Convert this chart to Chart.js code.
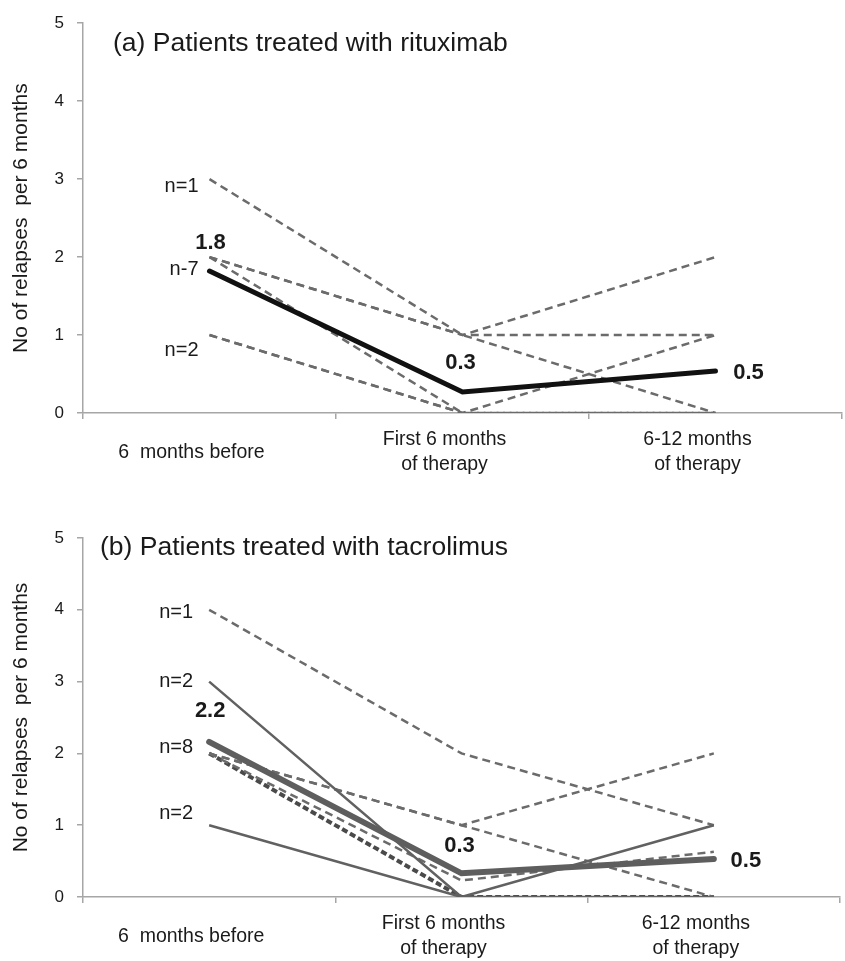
<!DOCTYPE html>
<html>
<head>
<meta charset="utf-8">
<script src="https://cdn.jsdelivr.net/npm/chart.js@4.4.1/dist/chart.umd.min.js"></script>
<style>
  body { margin: 0; background: #fff; }
  canvas { position: absolute; left: 0; }
  #rituxChart { top: 0; }
  #tacroChart { top: 480px; }
</style>
</head>
<body>
<canvas id="rituxChart" width="845" height="480"></canvas>
<canvas id="tacroChart" width="845" height="481"></canvas>
<script>
// categories along x
var periods = ['6  months before', ['First 6 months', 'of therapy'], ['6-12 months', 'of therapy']];

// (a) rituximab - individual patient profiles (dashed) and mean
var rituxPatients = [[3, 1, 0], [2, 1, 2], [2, 1, 1], [2, 0, 0], [1, 0, 1], [1, 0, 0]];
var rituxMean = [1.82, 0.27, 0.54];
var rituxMeanText = ['1.8', '0.3', '0.5'];
var rituxGroups = ['n=1', 'n-7', 'n=2'];
var rituxGroupStart = [3, 2, 1];

// (b) tacrolimus
var tacroDashed = [[4, 2, 1], [2, 1, 2], [2, 1, 0], [2, 0.23, 0.63]];
var tacroSolid = [[3, 0, 1], [1, 0, 0]];
var tacroDark = [[2, 0, 0]];
var tacroMean = [2.16, 0.33, 0.53];
var tacroMeanText = ['2.2', '0.3', '0.5'];
var tacroGroups = ['n=1', 'n=2', 'n=8', 'n=2'];
var tacroGroupStart = [4, 3, 2, 1];

var FONT = '"Liberation Sans", Arial, Helvetica, sans-serif';
var AXIS = '#a6a6a6';
var TEXT = '#1a1a1a';

Chart.defaults.font.family = FONT;
Chart.defaults.color = TEXT;

// titles, n= labels and mean values
var annotations = {
    id: 'annotations',
    afterDatasetsDraw: function (chart, args, opts) {
        var ctx = chart.ctx;
        var xs = chart.scales.x, ys = chart.scales.y;
        ctx.save();
        ctx.fillStyle = TEXT;
        ctx.textBaseline = 'middle';

        ctx.font = '26.5px ' + FONT;
        ctx.textAlign = 'left';
        ctx.fillText(opts.title, opts.titleX, opts.titleY);

        ctx.font = '20px ' + FONT;
        ctx.textAlign = 'right';
        var x0 = xs.getPixelForValue(0);
        opts.groups.forEach(function (t, i) {
            ctx.fillText(t, x0 - opts.groupGap, ys.getPixelForValue(opts.groupStart[i]) + opts.groupNudge[i]);
        });

        ctx.font = 'bold 22px ' + FONT;
        ctx.textAlign = 'center';
        var meta = chart.getDatasetMeta(0);
        meta.data.forEach(function (pt, i) {
            ctx.fillText(opts.meanText[i], pt.x + opts.meanNudge[i][0], pt.y + opts.meanNudge[i][1]);
        });
        ctx.restore();
    }
};

function line(data, color, width, dash) {
    return {
        data: data,
        borderColor: color,
        borderWidth: width,
        borderDash: dash || [],
        pointRadius: 0,
        tension: 0,
        fill: false,
        order: 1
    };
}

function makeChart(id, datasets, pad, xHeight, notes) {
    var el = document.getElementById(id);
    if (!el) {
        console.error('Chart element not found: ' + id);
        return;
    }
    return new Chart(el.getContext('2d'), {
        type: 'line',
        data: { labels: periods, datasets: datasets },
        options: {
            responsive: false,
            animation: false,
            layout: { padding: pad },
            plugins: {
                legend: { display: false },
                tooltip: { enabled: false },
                annotations: notes
            },
            scales: {
                x: {
                    offset: true,
                    grid: { offset: true, drawOnChartArea: false, tickLength: 6, color: AXIS, lineWidth: 1.5 },
                    border: { display: true, color: AXIS, width: 1.5 },
                    ticks: {
                        font: { size: 19.5, lineHeight: 1.28 },
                        color: TEXT,
                        padding: 21,
                        labelOffset: -18,
                        maxRotation: 0,
                        autoSkip: false,
                        crossAlign: 'center'
                    },
                    afterFit: function (s) { s.height = xHeight; }
                },
                y: {
                    min: 0,
                    max: 5,
                    ticks: { stepSize: 1, font: { size: 17 }, color: TEXT, padding: 13 },
                    grid: { drawOnChartArea: false, tickLength: 6, color: AXIS, lineWidth: 1.5 },
                    border: { display: true, color: AXIS, width: 1.5 },
                    title: {
                        display: true,
                        text: 'No of relapses  per 6 months',
                        font: { size: 21 },
                        color: TEXT,
                        padding: { top: 5, bottom: 0 }
                    },
                    afterFit: function (s) { s.width = 79; }
                }
            }
        },
        plugins: [annotations]
    });
}

// (a)
var rituxSets = [];
var rm = line(rituxMean, '#111111', 5);
rm.order = 0;
rm.borderCapStyle = 'round';
rituxSets.push(rm);
rituxPatients.forEach(function (p) {
    rituxSets.push(line(p, '#6b6b6b', 2.5, [8, 5]));
});

makeChart('rituxChart', rituxSets, { top: 20, right: 3, left: 4, bottom: 0 }, 67, {
    title: '(a) Patients treated with rituximab',
    titleX: 113,
    titleY: 44,
    groups: rituxGroups,
    groupStart: rituxGroupStart,
    groupNudge: [7, 12, 15],
    groupGap: 11,
    meanText: rituxMeanText,
    meanNudge: [[1, -28], [-2, -29], [33, 2]]
});

// (b)
var tacroSets = [];
var tm = line(tacroMean, '#5e5e5e', 6);
tm.order = 0;
tm.borderCapStyle = 'round';
tacroSets.push(tm);
tacroSolid.forEach(function (p) {
    tacroSets.push(line(p, '#616161', 2.5));
});
tacroDashed.forEach(function (p) {
    tacroSets.push(line(p, '#6b6b6b', 2.5, [8, 5]));
});
tacroDark.forEach(function (p) {
    tacroSets.push(line(p, '#4a4a4a', 4, [6, 3]));
});

makeChart('tacroChart', tacroSets, { top: 58, right: 5, left: 4, bottom: 0 }, 64, {
    title: '(b) Patients treated with tacrolimus',
    titleX: 100,
    titleY: 68,
    groups: tacroGroups,
    groupStart: tacroGroupStart,
    groupNudge: [3, 0, -6, -12],
    groupGap: 16,
    meanText: tacroMeanText,
    meanNudge: [[1, -31], [-2, -27], [32, 2]]
});
</script>
</body>
</html>
